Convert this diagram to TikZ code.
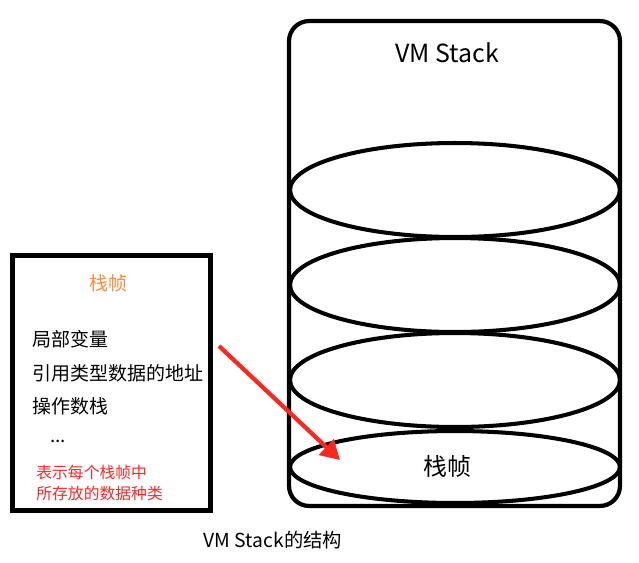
\documentclass[tikz,border=0pt]{standalone}
\usepackage{fontspec}
\newfontfamily\cjk{Noto Sans CJK SC}
\usetikzlibrary{shapes.geometric,arrows.meta}
\definecolor{titleorange}{RGB}{255,140,60}
\definecolor{notered}{RGB}{255,40,40}
\definecolor{arrowred}{RGB}{250,40,30}
\tikzset{
  stackwall/.style={
    draw,
    line width=2.4pt,
    rounded corners=0.4cm,
    minimum width=6.62cm,
    minimum height=9.7cm,
    inner sep=0
  },
  frameslot/.style={
    draw,
    shape=ellipse,
    line width=2.3pt,
    minimum width=6.6cm,
    inner sep=0
  },
  legendbox/.style={
    draw,
    line width=2.8pt,
    minimum width=3.96cm,
    minimum height=5.1cm,
    inner sep=0
  },
  item/.style={
    anchor=west,
    inner sep=0,
    font=\cjk\fontsize{10.8}{13}\selectfont
  },
  note/.style={
    anchor=west,
    inner sep=0,
    text=notered,
    font=\cjk\fontsize{9}{11}\selectfont
  },
  every picture/.style={
    font=\cjk
  }
}

\begin{document}
\begin{tikzpicture}[x=0.02cm,y=-0.02cm]
  \useasboundingbox (0,0) rectangle (639,562);
  % the stack with its frames
  \node[stackwall] (vm) at (454.5,263.5) {};
  \node[font=\cjk\fontsize{14.2}{17}\selectfont] (vmtitle) at (447,53) {VM Stack};
  \foreach \i/\y/\h in {1/190/1.88cm,2/285/1.88cm,3/380/1.88cm,4/467/1.44cm}{
    \node[frameslot,minimum height=\h] (f\i) at (455,\y) {};
  }
  \node[font=\cjk\fontsize{13.6}{16}\selectfont] (f4label) at (447,466) {栈帧};
  % what one frame holds
  \node[legendbox] (legend) at (111.5,383) {};
  \node[text=titleorange,font=\cjk\fontsize{10.8}{13}\selectfont] (legendtitle) at (108,283) {栈帧};
  \node[item] (locals) at (32,339) {局部变量};
  \node[item] (refaddr) at (32,373) {引用类型数据的地址};
  \node[item] (opstack) at (32,406) {操作数栈};
  \node[item] (more) at (50,441) {...};
  \node[note] (note1) at (36,472) {表示每个栈帧中};
  \node[note] (note2) at (36,493) {所存放的数据种类};
  \coordinate (arrstart) at (219,346);
  \coordinate (arrend) at (340,460);
  \draw[arrowred,line width=2.4pt,-{Triangle[length=0.38cm,width=0.42cm]}] (arrstart) -- (arrend);
  \node[font=\cjk\fontsize{11}{13}\selectfont] (caption) at (273,540) {VM Stack的结构};
\end{tikzpicture}
\end{document}
